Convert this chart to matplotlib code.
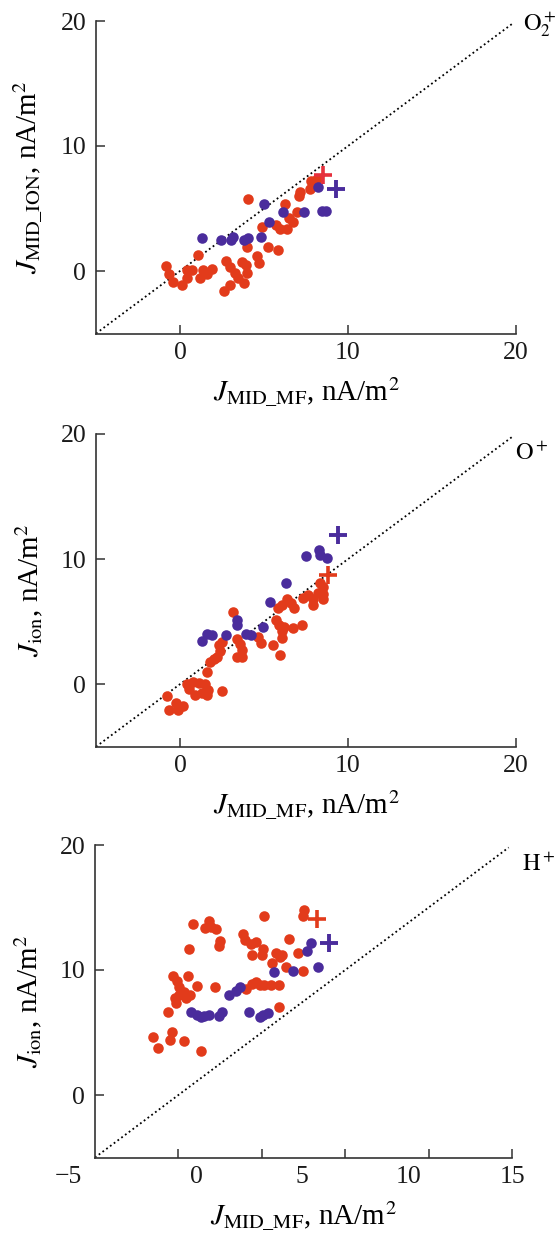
import matplotlib
matplotlib.use('Agg')
import matplotlib.pyplot as plt
import matplotlib.transforms as mtransforms

plt.rcParams['font.family'] = 'Liberation Serif'
plt.rcParams['mathtext.fontset'] = 'stix'

RED = '#e23b1b'
PURPLE = '#4a2c9c'

# --- O2+ ---
o2_red_x = [-0.83, -0.63, -0.40, 0.14, 0.40, 0.44, 0.70, 1.05, 1.19, 1.35, 1.59, 1.89,
            2.62, 2.98, 2.74, 2.98, 3.27, 3.47, 3.67, 3.91, 3.97, 3.83, 4.01, 4.56,
            4.72, 5.22, 5.81, 4.07, 4.86, 5.71, 5.95, 6.25, 6.39, 6.51, 6.75, 6.94,
            7.08, 7.14, 7.74, 7.80, 8.14]
o2_red_y = [0.40, -0.24, -0.85, -1.12, 0.08, -0.59, 0.08, 1.28, -0.59, 0.08, -0.24, 0.16,
            -1.57, -1.12, 0.83, 0.35, -0.19, -0.59, 0.75, 0.48, -0.19, -0.99, 1.89, 1.20,
            0.61, 1.95, 1.68, 5.73, 3.49, 3.68, 3.33, 5.33, 3.33, 4.21, 3.95, 4.75,
            6.00, 6.35, 6.53, 7.23, 7.33]
o2_pur_x = [1.33, 2.42, 3.04, 3.17, 3.83, 4.03, 4.82, 5.02, 5.32, 6.15, 7.40, 8.23, 8.43, 8.69]
o2_pur_y = [2.67, 2.48, 2.48, 2.69, 2.48, 2.61, 2.69, 5.33, 3.92, 4.72, 4.72, 6.69, 4.80, 4.80]
o2_red_mean = (8.53, 7.68)
o2_pur_mean = (9.29, 6.53)

# --- O+ ---
o_red_x = [-0.75, -0.65, -0.26, -0.14, 0.16, 0.40, 0.56, 0.79, 0.89, 1.15, 1.29, 1.49,
           1.59, 1.65, 2.48, 1.59, 1.79, 2.02, 2.22, 2.38, 2.30, 2.48, 3.17, 3.37,
           3.57, 3.67, 3.37, 3.67, 4.66, 4.80, 5.56, 5.95, 5.71, 5.91, 6.05, 6.19,
           6.05, 5.81, 6.05, 6.35, 6.59, 6.79, 6.75, 7.24, 7.34, 7.60, 7.94, 7.94,
           8.23, 8.49, 8.53, 8.33, 8.49]
o_red_y = [-0.93, -2.08, -1.49, -2.03, -1.76, 0.05, -0.35, 0.19, -0.83, 0.11, -0.69, 0.05,
           -0.88, -0.43, -0.56, 0.99, 1.79, 2.05, 2.19, 2.67, 3.12, 3.39, 5.79, 3.65,
           3.25, 2.77, 2.19, 2.19, 3.79, 3.33, 3.12, 2.32, 5.12, 4.72, 4.27, 4.59,
           3.73, 6.05, 6.32, 6.77, 6.45, 6.05, 4.45, 4.72, 6.85, 7.12, 6.77, 6.32,
           7.31, 6.77, 7.20, 8.11, 7.79]
o_pur_x = [1.29, 1.59, 1.88, 2.74, 3.37, 3.37, 3.93, 4.21, 4.96, 5.36, 6.29, 7.48,
           8.29, 8.33, 8.73]
o_pur_y = [3.44, 4.05, 3.92, 3.95, 5.12, 4.72, 4.00, 3.92, 4.53, 6.59, 8.11, 10.24,
           10.72, 10.32, 10.05]
o_red_mean = (8.83, 8.72)
o_pur_mean = (9.42, 11.92)

# --- H+ ---
h_red_x = [-1.50, -1.20, -0.50, -0.37, 0.36, 1.35, -0.60, -0.30, -0.10, 0.06, -0.20,
           -0.14, 0.06, 0.34, 0.44, 0.70, 0.56, 1.10, 0.86, 0.66, 1.59, 1.85, 1.94,
           2.24, 2.49, 2.43, 2.19, 3.85, 3.99, 4.33, 4.65, 4.39, 4.99, 5.09, 4.05,
           4.39, 4.65, 4.89, 5.13, 5.53, 6.05, 5.13, 5.59, 5.85, 6.09, 6.19, 6.43,
           6.03, 6.65, 7.19, 7.49, 7.55, 7.45]
h_red_y = [4.67, 3.79, 4.40, 5.07, 4.35, 3.52, 6.67, 9.52, 9.12, 8.67, 7.73,
           7.33, 8.00, 8.27, 7.73, 8.00, 9.52, 8.72, 13.65, 11.68, 13.33, 13.95, 13.47,
           13.25, 12.35, 11.92, 8.61, 12.88, 12.40, 12.08, 12.27, 11.20, 11.20, 11.65, 8.45,
           8.88, 9.07, 8.80, 8.80, 8.80, 8.80, 14.35, 10.53, 11.33, 11.01, 11.20, 10.27,
           7.07, 12.45, 11.39, 9.95, 14.80, 14.35]
h_pur_x = [0.74, 1.10, 1.34, 1.53, 1.85, 2.45, 2.60, 3.03, 3.45, 3.69, 4.25, 4.89,
           5.09, 5.39, 5.75, 6.89, 7.69, 7.93, 8.35]
h_pur_y = [6.67, 6.40, 6.27, 6.32, 6.40, 6.32, 6.67, 8.00, 8.35, 8.61, 6.67, 6.27,
           6.40, 6.59, 9.81, 9.92, 11.55, 12.13, 10.27]
h_red_mean = (8.29, 14.05)
h_pur_mean = (9.05, 12.13)

# tick labels of the bottom panel sit where they were printed, not under the marks
h_xlabel_pos = [-6.62, 1.10, 7.39, 13.78, 20.04]
h_xlabel_txt = ['\u22125', '0', '5', '10', '15']

FS = 18.5      # tick labels
LFS = 21       # axis titles
AXC = '#333333'

fig = plt.figure(figsize=(5.57, 12.43), dpi=100)
W, H = 557.0, 1243.0
ax1 = fig.add_axes([96 / W, 1 - 333.5 / H, 420 / W, 312.5 / H])
ax2 = fig.add_axes([96 / W, 1 - 746.7 / H, 420 / W, 312.7 / H])
ax3 = fig.add_axes([95 / W, 1 - 1157.5 / H, 417 / W, 312.5 / H])


def setup(ax, ylabel):
    ax.set_xlim(-5, 20)
    ax.set_ylim(-5, 20)
    for s in ['top', 'right']:
        ax.spines[s].set_visible(False)
    for s in ['left', 'bottom']:
        ax.spines[s].set_linewidth(1.2)
        ax.spines[s].set_color(AXC)
    ax.tick_params(direction='in', length=6.5, width=1.1, color=AXC,
                   labelsize=FS, labelcolor='#1a1a1a')
    ax.tick_params(axis='x', pad=6)
    ax.tick_params(axis='y', pad=7)
    ax.set_yticks([0, 10, 20])
    ax.plot([-5, 19.8], [-5, 19.8], color='k', ls=(0, (1, 1.6)), lw=1.3, zorder=1)
    ax.set_xlabel(r'$J_{\mathrm{MID\_MF}}$, nA/m$^2$', fontsize=LFS)
    ax.set_ylabel(ylabel, fontsize=LFS)
    ax.xaxis.set_label_coords(0.5, -0.135)
    ax.yaxis.set_label_coords(-0.122, 0.5)


def points(ax, rx, ry, px, py, rm, pm, rm_color=RED):
    ax.plot(rx, ry, 'o', color=RED, ms=7.6, mew=0, zorder=3, clip_on=False)
    ax.plot(px, py, 'o', color=PURPLE, ms=7.6, mew=0, zorder=4, clip_on=False)
    ax.plot(*rm, '+', color=rm_color, ms=12.5, mew=2.6, zorder=5, clip_on=False)
    ax.plot(*pm, '+', color=PURPLE, ms=12.5, mew=2.8, zorder=5, clip_on=False)


setup(ax1, r'$J_{\mathrm{MID\_ION}}$, nA/m$^2$')
ax1.set_xticks([0, 10, 20])
points(ax1, o2_red_x, o2_red_y, o2_pur_x, o2_pur_y, o2_red_mean, o2_pur_mean,
       rm_color='#e6303c')
ax1.text(20.4, 19.3, r'$\mathrm{O}_2^+$', fontsize=17.5, va='baseline',
         ha='left', clip_on=False)

setup(ax2, r'$J_{\mathrm{ion}}$, nA/m$^2$')
ax2.set_xticks([0, 10, 20])
points(ax2, o_red_x, o_red_y, o_pur_x, o_pur_y, o_red_mean, o_pur_mean)
ax2.text(19.95, 17.9, r'$\mathrm{O}^+$', fontsize=17.5, va='baseline', ha='left',
         clip_on=False)

setup(ax3, r'$J_{\mathrm{ion}}$, nA/m$^2$')
ax3.set_xticks([0, 5, 10, 15, 20])
ax3.set_xticklabels([])
trans = mtransforms.blended_transform_factory(ax3.transData, ax3.transAxes)
for xp, lab in zip(h_xlabel_pos, h_xlabel_txt):
    ax3.text(xp, -0.027, lab, transform=trans, ha='center', va='top',
             fontsize=FS, color='#1a1a1a', clip_on=False)
points(ax3, h_red_x, h_red_y, h_pur_x, h_pur_y, h_red_mean, h_pur_mean)
ax3.text(20.6, 17.9, r'$\mathrm{H}^+$', fontsize=17.5, va='baseline', ha='left',
         clip_on=False)

fig.savefig('out.png', dpi=100)
